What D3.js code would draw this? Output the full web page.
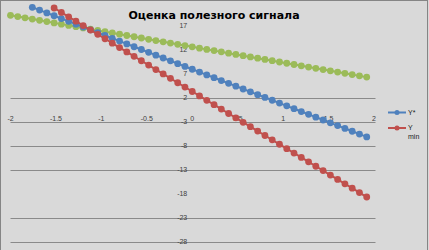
<!DOCTYPE html>
<html>
<head>
<meta charset="utf-8">
<script src="https://cdn.jsdelivr.net/npm/d3@7"></script>
<style>
body { margin: 0; background: #d9d9d9; }
svg { display: block; }
</style>
</head>
<body>
<script>
// x runs from -2 with a step of 0.08
var xStart = -2;
var xStep = 0.08;

// green series (no legend entry), starts at x = -2
var greenValues = [19.23, 18.97, 18.70, 18.44, 18.18, 17.92, 17.65, 17.39, 17.13, 16.86,
    16.60, 16.34, 16.08, 15.81, 15.55, 15.29, 15.02, 14.76, 14.50, 14.23,
    13.97, 13.71, 13.45, 13.18, 12.92, 12.66, 12.39, 12.13, 11.87, 11.61,
    11.34, 11.08, 10.82, 10.55, 10.29, 10.03, 9.77, 9.50, 9.24, 8.98,
    8.71, 8.45, 8.19, 7.92, 7.66, 7.40, 7.14, 6.87, 6.61, 6.35];
// Y* series, starts at x = -1.76 (4th point)
var yStarOffset = 3;
var yStarValues = [20.90, 20.31, 19.73, 19.14, 18.55, 17.97, 17.38, 16.79, 16.20, 15.62,
    15.03, 14.44, 13.86, 13.27, 12.68, 12.10, 11.51, 10.92, 10.33, 9.75,
    9.16, 8.57, 7.99, 7.40, 6.81, 6.23, 5.64, 5.05, 4.46, 3.88,
    3.29, 2.70, 2.12, 1.53, 0.94, 0.36, -0.23, -0.82, -1.41, -1.99,
    -2.58, -3.17, -3.75, -4.34, -4.93, -5.52, -6.10];
// Y min series, starts at x = -1.52 (7th point)
var yMinOffset = 6;
var yMinValues = [20.75, 19.83, 18.92, 18.00, 17.09, 16.17, 15.26, 14.34, 13.42, 12.51,
    11.59, 10.68, 9.76, 8.85, 7.93, 7.01, 6.10, 5.18, 4.27, 3.35,
    2.44, 1.52, 0.60, -0.31, -1.23, -2.14, -3.06, -3.97, -4.89, -5.81,
    -6.72, -7.64, -8.55, -9.47, -10.38, -11.30, -12.22, -13.13, -14.05, -14.96,
    -15.88, -16.79, -17.71, -18.63];

var xTicks = [-2, -1.5, -1, -0.5, 0, 0.5, 1, 1.5, 2];
var yTicks = [17, 12, 7, 2, -3, -8, -13, -18, -23, -28];
var gridValues = [2, -3, -8, -13, -23, -28];
var titleText = "Оценка полезного сигнала";
var legendNames = ["Y*", "Y min"];

var width = 429;
var height = 250;

var svg = d3.select('body')
    .append("svg")
    .attr("width", width)
    .attr("height", height);

svg.append("rect")
    .attr("x", 0.5)
    .attr("y", 0.5)
    .attr("width", width - 2)
    .attr("height", height + 10)
    .attr("fill", "#d9d9d9")
    .attr("stroke", "#858585");

var xScale = d3.scaleLinear()
    .domain([-2, 2])
    .range([10.5, 374]);
var yScale = d3.scaleLinear()
    .domain([17, -28])
    .range([26, 242]);

function toPoints(values, offset) {
    return values.map(function (v, i) {
        return { x: xStart + (i + offset) * xStep, y: v };
    });
}

var series = [
    { name: "green", color: "#9bbb59", points: toPoints(greenValues, 0) },
    { name: legendNames[0], color: "#4f81bd", points: toPoints(yStarValues, yStarOffset) },
    { name: legendNames[1], color: "#c0504d", points: toPoints(yMinValues, yMinOffset) }
];

// gridlines
svg.append("g")
    .classed("grid", true)
    .selectAll("line")
    .data(gridValues)
    .enter()
    .append("line")
    .attr("x1", xScale(-2))
    .attr("x2", xScale(2) + 1.5)
    .attr("y1", function (d) { return Math.round(yScale(d)) + 0.5; })
    .attr("y2", function (d) { return Math.round(yScale(d)) + 0.5; })
    .attr("stroke", "#8a8a8a")
    .attr("stroke-width", 1);

// y tick labels, left of x = 0
svg.append("g")
    .selectAll("text")
    .data(yTicks)
    .enter()
    .append("text")
    .attr("x", xScale(0) - 5)
    .attr("y", function (d) { return yScale(d); })
    .attr("dy", "0.35em")
    .attr("text-anchor", "end")
    .attr("font-family", "Liberation Sans, Arial, sans-serif")
    .attr("font-size", 7)
    .attr("fill", "#404040")
    .text(function (d) { return d; });

// x tick labels, just above the y = -3 line
svg.append("g")
    .selectAll("text")
    .data(xTicks)
    .enter()
    .append("text")
    .attr("x", function (d) { return xScale(d); })
    .attr("y", yScale(-3) - 1.5)
    .attr("text-anchor", "middle")
    .attr("font-family", "Liberation Sans, Arial, sans-serif")
    .attr("font-size", 7)
    .attr("fill", "#404040")
    .text(function (d) { return d; });

var line = d3.line()
    .x(function (d) { return xScale(d.x); })
    .y(function (d) { return yScale(d.y); });

var seriesGroup = svg.selectAll(".series")
    .data(series)
    .enter()
    .append("g")
    .classed("series", true);

seriesGroup.append("path")
    .attr("d", function (d) { return line(d.points); })
    .attr("fill", "none")
    .attr("stroke", function (d) { return d.color; })
    .attr("stroke-width", 2);

seriesGroup.each(function (s) {
    d3.select(this).selectAll("circle")
        .data(s.points)
        .enter()
        .append("circle")
        .attr("cx", function (d) { return xScale(d.x); })
        .attr("cy", function (d) { return yScale(d.y); })
        .attr("r", 3.4)
        .attr("fill", s.color);
});

// title
svg.append("text")
    .attr("x", 214)
    .attr("y", 18.5)
    .attr("text-anchor", "middle")
    .attr("font-family", "DejaVu Sans, Verdana, sans-serif")
    .attr("font-weight", "bold")
    .attr("font-size", 11)
    .attr("fill", "#000")
    .text(titleText);

// legend
var legend = svg.append("g")
    .attr("transform", "translate(388, 112.5)");
var legendItems = legend.selectAll("g")
    .data(series.slice(1))
    .enter()
    .append("g")
    .attr("transform", function (d, i) { return "translate(0," + (i * 15.5) + ")"; });
legendItems.append("line")
    .attr("x1", 0)
    .attr("x2", 18)
    .attr("stroke", function (d) { return d.color; })
    .attr("stroke-width", 2);
legendItems.append("circle")
    .attr("cx", 9)
    .attr("r", 2.5)
    .attr("fill", function (d) { return d.color; });
legendItems.append("text")
    .attr("x", 20)
    .attr("y", 2)
    .attr("font-family", "Liberation Sans, Arial, sans-serif")
    .attr("font-size", 7)
    .attr("fill", "#202020")
    .each(function (d) {
        var parts = d.name.split(" ");
        var t = d3.select(this);
        parts.forEach(function (p, k) {
            t.append("tspan")
                .attr("x", 20)
                .attr("dy", k === 0 ? 0 : 9)
                .text(p);
        });
    });
</script>
</body>
</html>
